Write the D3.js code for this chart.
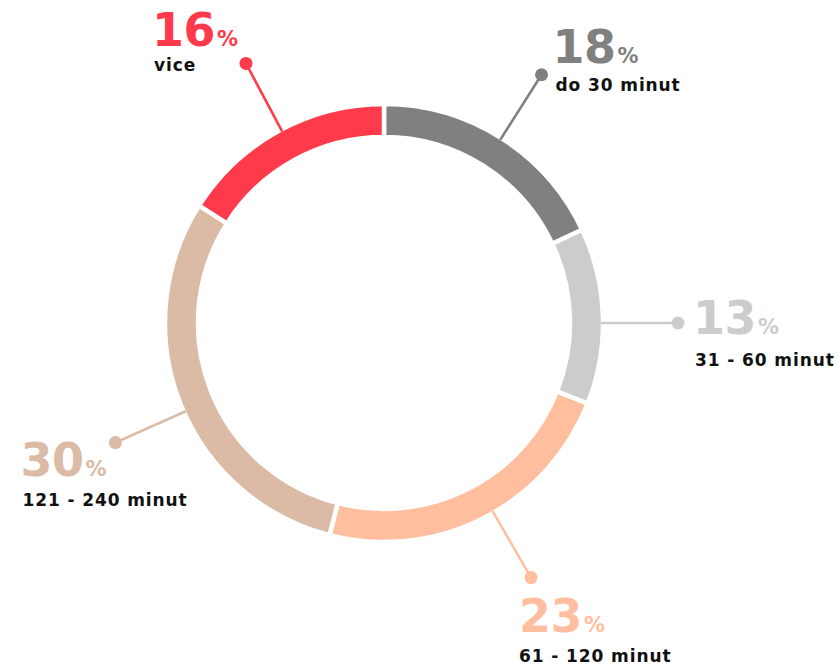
<!DOCTYPE html>
<html>
<head>
<meta charset="utf-8">
<script src="https://cdn.jsdelivr.net/npm/d3@7"></script>
<style>
  body { margin: 0; background: #fff; }
  #chart svg { display: block; }
  .num { font-family: "DejaVu Sans", sans-serif; font-weight: bold; }
  .lbl { font-family: "DejaVu Sans", sans-serif; font-weight: bold; fill: #111; }
</style>
</head>
<body>
<div id="chart"></div>
<script>
const w = 839;
const h = 665;
const categories = ["do 30 minut", "31 - 60 minut", "61 - 120 minut", "121 - 240 minut", "vice"];
const values = [18, 13, 23, 30, 16];
const colors = ["#808080", "#cccccc", "#ffbf9f", "#dbbaa6", "#ff3b4b"];

// label placement: angle nudge (deg) and text offsets from the dot
const nudge = [0, 1.8, -3, -2.4, 0.8];
const numOff = [[11, -12], [15, 11], [-12, 54], [-95, 33], [-94, -17]];
const lblOff = [[14, 16], [17, 43], [-12, 84], [-93, 63], [-92, 8]];

const cx = 384;
const cy = 323;
const outer = 219;
const inner = 186;
const dotR = 294;

const data = categories.map((c, i) => ({ name: c, value: values[i], color: colors[i], i: i }));

const svg = d3.select("#chart").append("svg").attr("width", w).attr("height", h);
const g = svg.append("g").attr("transform", `translate(${cx}, ${cy})`);

const pie = d3.pie().value((d) => d.value).sort(null);
const arc = d3.arc().innerRadius(inner).outerRadius(outer);
const arcs = pie(data);

g.selectAll("path")
  .data(arcs)
  .enter()
  .append("path")
  .attr("d", arc)
  .attr("fill", (d) => d.data.color)
  .attr("stroke", "#fff")
  .attr("stroke-width", 4.5);

const labels = g.selectAll("g.label").data(arcs).enter().append("g").attr("class", "label");

function pt(d, r) {
  const a = (d.startAngle + d.endAngle) / 2 + (nudge[d.data.i] * Math.PI) / 180;
  return [Math.sin(a) * r, -Math.cos(a) * r];
}

labels
  .append("line")
  .attr("x1", (d) => pt(d, outer - 2)[0])
  .attr("y1", (d) => pt(d, outer - 2)[1])
  .attr("x2", (d) => pt(d, dotR)[0])
  .attr("y2", (d) => pt(d, dotR)[1])
  .attr("stroke", (d) => d.data.color)
  .attr("stroke-width", 2.5);

labels
  .append("circle")
  .attr("cx", (d) => pt(d, dotR)[0])
  .attr("cy", (d) => pt(d, dotR)[1])
  .attr("r", 6.5)
  .attr("fill", (d) => d.data.color);

const num = labels
  .append("text")
  .attr("class", "num")
  .attr("x", (d) => pt(d, dotR)[0] + numOff[d.data.i][0])
  .attr("y", (d) => pt(d, dotR)[1] + numOff[d.data.i][1])
  .attr("fill", (d) => d.data.color)
  .attr("font-size", 46)
  .attr("letter-spacing", -0.5);
num.append("tspan").text((d) => d.data.value);
num.append("tspan").attr("font-size", 21).attr("dx", 2).text("%");

labels
  .append("text")
  .attr("class", "lbl")
  .attr("x", (d) => pt(d, dotR)[0] + lblOff[d.data.i][0])
  .attr("y", (d) => pt(d, dotR)[1] + lblOff[d.data.i][1])
  .attr("font-size", 17)
  .attr("letter-spacing", 0.9)
  .text((d) => d.data.name);
</script>
</body>
</html>
